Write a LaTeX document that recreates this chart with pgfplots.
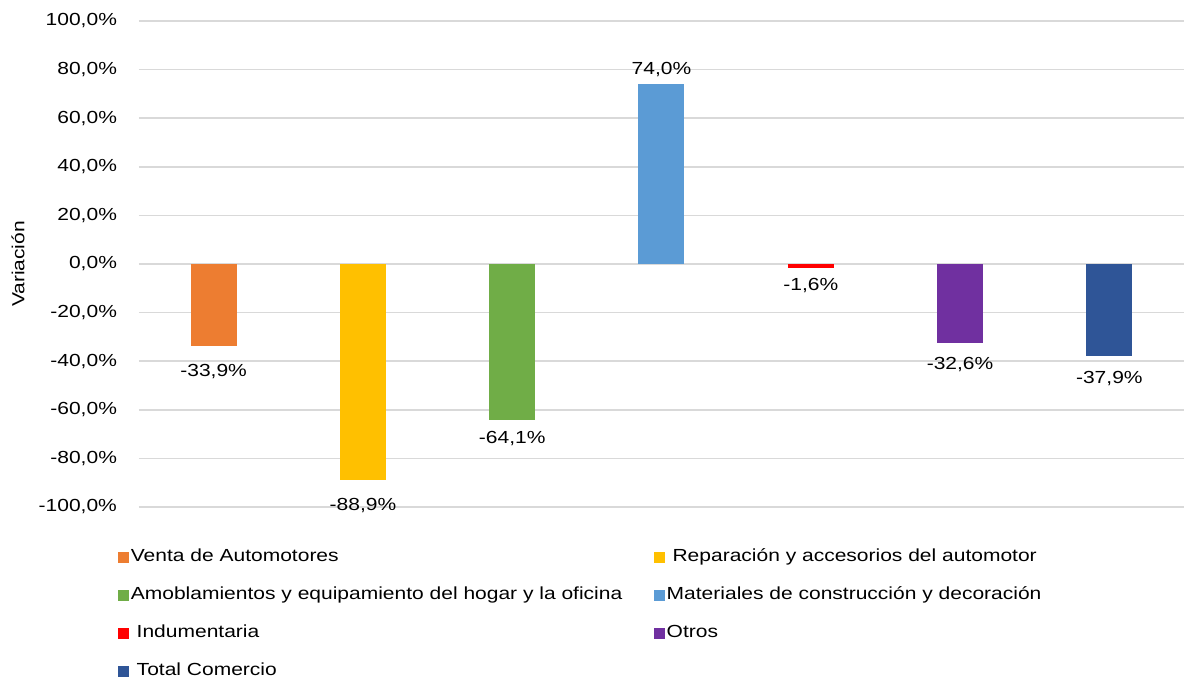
\documentclass[border=0pt]{standalone}
\usepackage{fontspec}
\setmainfont{Liberation Sans}[FakeStretch=1.2]
\usepackage{pgfplots}
\pgfplotsset{compat=1.18}
\definecolor{c1}{HTML}{ED7D31}
\definecolor{c2}{HTML}{FFC000}
\definecolor{c3}{HTML}{70AD47}
\definecolor{c4}{HTML}{5B9BD5}
\definecolor{c5}{HTML}{FF0000}
\definecolor{c6}{HTML}{7030A0}
\definecolor{c7}{HTML}{2F5597}
\pgfplotsset{
  /pgfplots/ybar legend/.style={/pgfplots/legend image code/.code={\fill[##1,draw=none] (0pt,-2.6pt) rectangle (5.2pt,2.6pt);}},
  neg/.style={every node near coord/.append style={yshift=-#1}},
}
\begin{document}
\begin{tikzpicture}[font=\fontsize{8.75}{10.5}\selectfont]
\begin{axis}[
  at={(69.5pt,86.5pt)}, anchor=south west,
  scale only axis, width=522.5pt, height=243pt,
  xmin=-0.5, xmax=6.5, ymin=-100, ymax=100,
  ytick={-100,-80,...,100},
  xtick=\empty,
  ymajorgrids, grid style={draw=black!15, line width=0.75pt},
  axis line style={draw=none},
  major tick length=0pt,
  yticklabel={\pgfmathprintnumber[fixed,fixed zerofill,precision=1,use comma,assume math mode=true]{\tick}\%},
  yticklabel style={xshift=-7.5pt},
  ybar, bar width=23pt, bar shift=0pt,
  nodes near coords={\pgfmathprintnumber[fixed,fixed zerofill,precision=1,use comma,assume math mode=true]{\pgfplotspointmeta}\%},
  ylabel={Variación},
  ylabel style={at={(axis description cs:-0.1158,0.5)}, anchor=center},
  legend columns=2,
  legend cell align=left,
  legend style={at={(-0.02,-0.0854)}, anchor=north west, draw=none, inner sep=0pt,
    nodes={text height=6.5pt, text depth=2pt, inner ysep=0pt, inner xsep=1pt},
    row sep=10.5pt,
    /tikz/every even column/.append style={column sep=15pt}},
]
\addplot[fill=c1, draw=none, neg=5.5pt] coordinates {(0,-33.9)};
\addplot[fill=c2, draw=none, neg=5.5pt] coordinates {(1,-88.9)};
\addplot[fill=c3, draw=none, neg=2pt] coordinates {(2,-64.1)};
\addplot[fill=c4, draw=none] coordinates {(3,74.0)};
\addplot[fill=c5, draw=none, neg=1.5pt] coordinates {(4,-1.6)};
\addplot[fill=c6, draw=none, neg=3.5pt] coordinates {(5,-32.6)};
\addplot[fill=c7, draw=none, neg=4pt] coordinates {(6,-37.9)};
\legend{Venta de Automotores,\ Reparación y accesorios del automotor,Amoblamientos y equipamiento del hogar y la oficina,Materiales de construcción y decoración,\ Indumentaria,Otros,\ Total Comercio}
\end{axis}
\pgfresetboundingbox
\path[use as bounding box] (0,0) rectangle (592pt,340pt);
\end{tikzpicture}
\end{document}
